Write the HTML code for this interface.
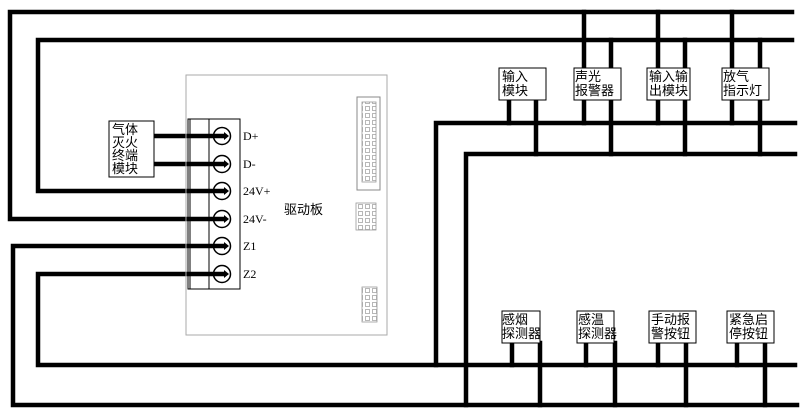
<!DOCTYPE html>
<html><head><meta charset="utf-8"><style>
html,body{margin:0;padding:0;background:#fff;}
svg{display:block;}
text{font-family:"Liberation Sans","Noto Sans CJK SC",sans-serif;font-size:13px;fill:#000;}
.m{font-family:"Liberation Serif","Noto Serif CJK SC",serif;font-size:12px;}
</style></head><body>
<svg width="805" height="416" viewBox="0 0 805 416" xmlns="http://www.w3.org/2000/svg">
<defs>
<pattern id="pins" width="7" height="7" patternUnits="userSpaceOnUse">
<rect x="1.5" y="1.5" width="4" height="4" fill="none" stroke="#999" stroke-width="0.7"/>
</pattern>
</defs>
<g stroke="#000" stroke-width="4.5" fill="none" stroke-linecap="square">
<polyline points="792,12 10,12 10,219 222,219"/>
<polyline points="792,40 38,40 38,191 222,191"/>
<polyline points="222,246 13,246 13,405 797,405"/>
<polyline points="222,274 38,274 38,365 795,365"/>
<line x1="154" y1="136" x2="222" y2="136"/>
<line x1="154" y1="164" x2="222" y2="164"/>
<polyline points="795,123 436,123 436,365"/>
<polyline points="795,154 466,154 466,405"/>
<line x1="509" y1="100" x2="509" y2="123"/>
<line x1="536" y1="100" x2="536" y2="154"/>
<line x1="584" y1="12" x2="584" y2="123"/>
<line x1="611" y1="40" x2="611" y2="154"/>
<line x1="658" y1="12" x2="658" y2="123"/>
<line x1="685" y1="40" x2="685" y2="154"/>
<line x1="732" y1="12" x2="732" y2="123"/>
<line x1="760" y1="40" x2="760" y2="154"/>
<line x1="512" y1="343" x2="512" y2="365"/>
<line x1="540" y1="343" x2="540" y2="405"/>
<line x1="586" y1="343" x2="586" y2="365"/>
<line x1="615" y1="343" x2="615" y2="405"/>
<line x1="658" y1="343" x2="658" y2="365"/>
<line x1="686" y1="343" x2="686" y2="405"/>
<line x1="737" y1="343" x2="737" y2="365"/>
<line x1="765" y1="343" x2="765" y2="405"/>
</g>
<rect x="186" y="75" width="201" height="260" fill="none" stroke="#aaa" stroke-width="1"/>
<rect x="188" y="119" width="52" height="170" fill="none" stroke="#000" stroke-width="1"/>
<line x1="190" y1="119" x2="190" y2="289" stroke="#000" stroke-width="1"/>
<line x1="209" y1="119" x2="209" y2="289" stroke="#000" stroke-width="1"/>
<g fill="none" stroke="#000" stroke-width="1.5">
<circle cx="222" cy="136" r="8.5"/><circle cx="222" cy="164" r="8.5"/><circle cx="222" cy="191" r="8.5"/>
<circle cx="222" cy="219" r="8.5"/><circle cx="222" cy="246" r="8.5"/><circle cx="222" cy="274" r="8.5"/>
</g>
<g fill="#000">
<polygon points="224,132 229,136 224,140"/><polygon points="224,160 229,164 224,168"/><polygon points="224,187 229,191 224,195"/>
<polygon points="224,215 229,219 224,223"/><polygon points="224,242 229,246 224,250"/><polygon points="224,270 229,274 224,278"/>
</g>
<text class="m" x="243" y="140">D+</text>
<text class="m" x="243" y="168">D-</text>
<text class="m" x="243" y="195">24V+</text>
<text class="m" x="243" y="223">24V-</text>
<text class="m" x="243" y="250">Z1</text>
<text class="m" x="243" y="278">Z2</text>
<text x="284" y="214">驱动板</text>
<rect x="357" y="97" width="23" height="93" fill="none" stroke="#888" stroke-width="1"/>
<rect x="362" y="102" width="14" height="80" fill="url(#pins)" stroke="#999" stroke-width="0.8"/>
<rect x="356" y="203" width="20" height="27" fill="url(#pins)" stroke="#999" stroke-width="0.8"/>
<rect x="362" y="287" width="15" height="35" fill="url(#pins)" stroke="#999" stroke-width="0.8"/>
<rect x="109" y="121" width="45" height="56" fill="#fff" stroke="#000" stroke-width="1"/>
<text x="112" y="134">气体</text><text x="112" y="147">灭火</text><text x="112" y="160">终端</text><text x="112" y="173">模块</text>
<g fill="#fff" stroke="#000" stroke-width="1">
<rect x="499" y="68" width="47" height="32"/><rect x="574" y="68" width="47" height="32"/>
<rect x="647" y="68" width="43" height="32"/><rect x="722" y="68" width="47" height="32"/>
<rect x="502" y="311" width="38" height="32"/><rect x="577" y="311" width="37" height="32"/>
<rect x="649" y="311" width="47" height="32"/><rect x="727" y="311" width="47" height="32"/>
</g>
<text x="502" y="81">输入</text><text x="502" y="95">模块</text>
<text x="575" y="81">声光</text><text x="575" y="95">报警器</text>
<text x="649" y="81">输入输</text><text x="649" y="95">出模块</text>
<text x="723" y="81">放气</text><text x="723" y="95">指示灯</text>
<text x="502" y="324">感烟</text><text x="502" y="338">探测器</text>
<text x="578" y="324">感温</text><text x="578" y="338">探测器</text>
<text x="651" y="324">手动报</text><text x="651" y="338">警按钮</text>
<text x="729" y="324">紧急启</text><text x="729" y="338">停按钮</text>
</svg>
</body></html>
